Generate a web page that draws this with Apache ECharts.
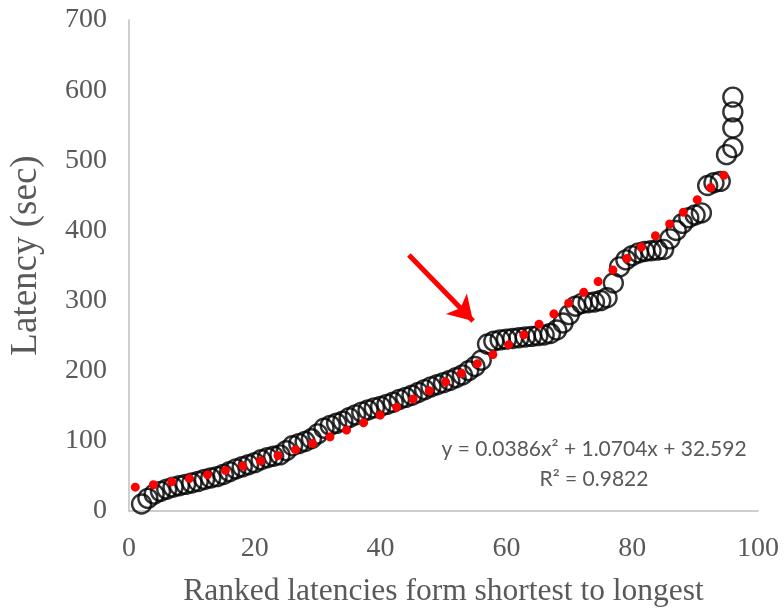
<!DOCTYPE html>
<html><head><meta charset="utf-8">
<script src="https://cdn.jsdelivr.net/npm/echarts@6/dist/echarts.min.js"></script>
<style>html,body{margin:0;padding:0;background:#fff}#c{width:784px;height:613px}</style>
</head><body><div id="c"></div>
<script>
// Ranked latencies (rank, seconds)
const rankX = [2,3,4,5,6,7,8,9,10,11,12,13,14,15,16,17,18,19,20,21,22,23,24,25,26,27,28,29,30,31,32,33,34,35,36,37,38,39,40,41,42,43,44,45,46,47,48,49,50,51,52,53,54,55,56,57,58,59,60,61,62,63,64,65,66,67,68,69,70,71,72,73,74,75,76,77,78,79,80,81,82,83,84,85,86,87,88,89,90,91,92,93,94,95,96,96,96,96];
const latency = [10,18,24,28,31,34,36,38,40,42,45,47,49,52,56,60,63,66,69,73,76,78,80,86,93,96,99,103,110,118,122,125,128,133,137,141,144,147,149,152,155,159,162,165,169,173,177,180,183,186,190,194,200,206,215,238,242,244,245,246,247,248,249,250,251,253,258,268,280,292,296,297,298,300,304,325,348,358,364,368,370,371,372,373,388,400,410,418,422,425,464,468,470,508,518,546,569,590];
// Trendline
const trendX = [1,5,10,15,20,25,30,35,40,45,50,55,60,65,70,75,80,85,90,95,96];
const trendY = [34,39,47,57,69,83,99,117,137,159,182,208,235,265,297,330,366,402,441,482,491];
const xTicks = {min:0, max:100, interval:20};
const yTicks = {min:0, max:700, interval:100};
const eqLine1 = 'y = 0.0386x² + 1.0704x + 32.592';
const eqLine2 = 'R² = 0.9822';
const arrowFrom = [44.5, 365];
const arrowTo = [54.7, 271];

const chart = echarts.init(document.getElementById('c'), null, {renderer:'canvas'});
const serif = 'Liberation Serif';
const gray = '#595959';
chart.setOption({
  animation:false,
  backgroundColor:'#fff',
  grid:{left:127, right:26, top:20, bottom:102, containLabel:false},
  xAxis:{type:'value', min:xTicks.min, max:xTicks.max, interval:xTicks.interval,
    name:'Ranked latencies form shortest to longest', nameLocation:'middle', nameGap:65,
    nameTextStyle:{fontFamily:serif, fontSize:31.5, color:gray},
    axisLine:{lineStyle:{color:'#bfbfbf', width:1.5}}, axisTick:{show:false}, splitLine:{show:false},
    axisLabel:{fontFamily:serif, fontSize:28, color:gray, margin:24}},
  yAxis:{type:'value', min:yTicks.min, max:yTicks.max, interval:yTicks.interval,
    name:'Latency (sec)', nameLocation:'middle', nameGap:84,
    nameTextStyle:{fontFamily:serif, fontSize:37, color:gray, padding:[0,0,0,20]},
    axisLine:{show:true, lineStyle:{color:'#bfbfbf', width:1.5}}, axisTick:{show:false}, splitLine:{show:false},
    axisLabel:{fontFamily:serif, fontSize:28, color:gray, margin:22}},
  graphic:[
    {type:'text', style:{text:eqLine1, x:594, y:449, align:'center', verticalAlign:'middle', font:'21px Lato', fill:gray}},
    {type:'text', style:{text:eqLine2, x:594, y:479, align:'center', verticalAlign:'middle', font:'21px Lato', fill:gray}}
  ],
  series:[
    {type:'scatter', data:rankX.map((x,i)=>[x, latency[i]]), symbol:'circle', symbolSize:19,
     itemStyle:{color:'rgba(0,0,0,0)', borderColor:'#000', borderWidth:2.4},
     markLine:{silent:true, symbol:['none','arrow'], symbolSize:[22,24], label:{show:false},
       lineStyle:{color:'#ff0000', width:5, type:'solid'},
       data:[[{coord:arrowFrom},{coord:arrowTo}]]}},
    {type:'line', data:trendX.map((x,i)=>[x, trendY[i]]), smooth:true, showSymbol:false, symbol:'none',
     lineStyle:{color:'#ff0000', width:9, type:[0.01,18.3], cap:'round'}}
  ]
});
</script></body></html>
